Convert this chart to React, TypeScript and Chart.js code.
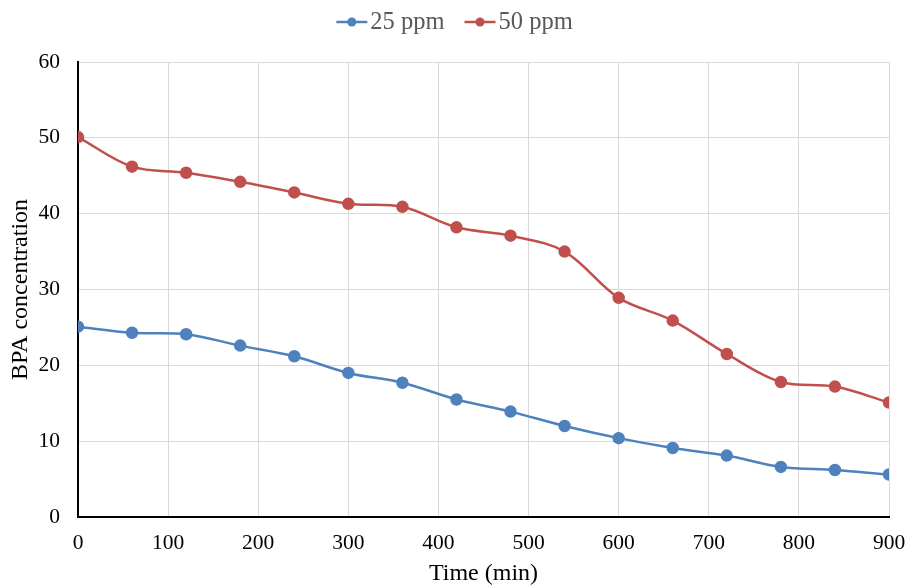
import React, { useEffect, useRef } from "react";
import { Chart, registerables } from "chart.js";

Chart.register(...registerables);

const times = [0, 60, 120, 180, 240, 300, 360, 420, 480, 540, 600, 660, 720, 780, 840, 900];
const ppm25 = [25.1, 24.3, 24.1, 22.6, 21.2, 19.0, 17.7, 15.5, 13.9, 12.0, 10.4, 9.1, 8.1, 6.6, 6.2, 5.6];
const ppm50 = [50.1, 46.2, 45.4, 44.2, 42.8, 41.3, 40.9, 38.2, 37.1, 35.0, 28.9, 25.9, 21.5, 17.8, 17.2, 15.1];
const seriesNames = ["25 ppm", "50 ppm"];
const seriesColors = ["#4f81bd", "#c0504d"];
const xTitle = "Time (min)";
const yTitle = "BPA concentration";

const FONT = "'Liberation Serif', 'Times New Roman', serif";

const legendPlugin = {
  id: "lineLegend",
  afterDraw(chart: any) {
    const ctx = chart.ctx;
    ctx.save();
    ctx.font = `24.5px ${FONT}`;
    ctx.textBaseline = "middle";
    const items = chart.data.datasets.map((d: any) => ({
      label: d.label,
      color: d.borderColor,
      w: ctx.measureText(d.label).width,
    }));
    const lineW = 31;
    const gap = 3;
    const between = 20;
    const total = items.reduce((s: number, it: any) => s + lineW + gap + it.w, 0) + between * (items.length - 1);
    let x = chart.width / 2 - total / 2;
    const y = 22;
    items.forEach((it: any) => {
      ctx.strokeStyle = it.color;
      ctx.lineWidth = 2.5;
      ctx.beginPath();
      ctx.moveTo(x, y);
      ctx.lineTo(x + lineW, y);
      ctx.stroke();
      ctx.fillStyle = it.color;
      ctx.beginPath();
      ctx.arc(x + lineW / 2, y, 4.5, 0, Math.PI * 2);
      ctx.fill();
      ctx.fillStyle = "#595959";
      ctx.textAlign = "left";
      ctx.fillText(it.label, x + lineW + gap, y + 1);
      x += lineW + gap + it.w + between;
    });
    ctx.restore();
  },
};

export default function App() {
  const ref = useRef<HTMLCanvasElement>(null);
  useEffect(() => {
    document.body.style.margin = "0";
    const chart = new Chart(ref.current!, {
      type: "line",
      data: {
        datasets: [ppm25, ppm50].map((vals, i) => ({
          label: seriesNames[i],
          data: times.map((t, j) => ({ x: t, y: vals[j] })),
          borderColor: seriesColors[i],
          backgroundColor: seriesColors[i],
          borderWidth: 2.5,
          pointRadius: 5,
          pointHoverRadius: 5,
          tension: 0.35,
          fill: false,
        })),
      },
      options: {
        animation: false,
        responsive: false,
        maintainAspectRatio: false,
        layout: { padding: { top: 62, right: 20, left: 0, bottom: 0 } },
        plugins: { legend: { display: false }, tooltip: { enabled: false } },
        scales: {
          x: {
            type: "linear",
            min: 0,
            max: 900,
            ticks: { stepSize: 100, color: "#000", font: { family: FONT, size: 21.5 }, padding: 13 },
            grid: { color: "#d9d9d9", drawTicks: false, lineWidth: 1 },
            border: { color: "#000", width: 2 },
            title: { display: true, text: xTitle, color: "#000", font: { family: FONT, size: 24 }, padding: { top: 0, bottom: 0 } },
            afterFit: (s: any) => {
              s.height = 71;
              s.paddingLeft = 0;
              s.paddingRight = 0;
            },
          },
          y: {
            min: 0,
            max: 60,
            ticks: { stepSize: 10, color: "#000", font: { family: FONT, size: 21.5 }, padding: 18 },
            grid: { color: "#d9d9d9", drawTicks: false, lineWidth: 1 },
            border: { color: "#000", width: 2 },
            title: { display: true, text: yTitle, color: "#000", font: { family: FONT, size: 24 }, padding: { top: 6, bottom: 2 } },
            afterFit: (s: any) => {
              s.width = 78;
              s.paddingTop = 0;
              s.paddingBottom = 0;
            },
          },
        },
      },
      plugins: [legendPlugin],
    });
    return () => chart.destroy();
  }, []);
  return (
    <div style={{ position: "absolute", left: 0, top: 0, width: 909, height: 588, background: "#fff" }}>
      <canvas ref={ref} width={909} height={588} style={{ width: 909, height: 588 }} />
    </div>
  );
}
